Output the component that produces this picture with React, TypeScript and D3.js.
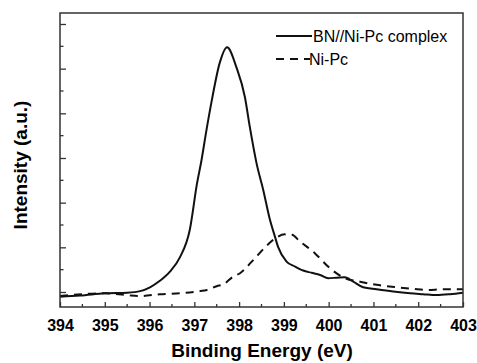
import { useEffect, useRef } from "react";
import * as d3 from "d3";

// BN//Ni-Pc complex (solid line)
const complexEnergy = [
  394.0, 394.45, 395.0, 395.5, 395.79, 396.01, 396.23, 396.45, 396.68, 396.9,
  397.06, 397.16, 397.27, 397.39, 397.57, 397.73, 397.94, 398.13, 398.24, 398.39,
  398.54, 398.69, 398.8, 398.87, 399.06, 399.25, 399.43, 399.62, 399.81, 399.99,
  400.18, 400.36, 400.55, 400.77, 401.07, 401.44, 401.82, 402.11, 402.41, 402.71, 403.0,
];
const complexIntensity = [
  -0.105, -0.08, -0.03, -0.015, 0.02, 0.105, 0.25, 0.45, 0.78, 1.4,
  2.43, 2.95, 3.62, 4.29, 5.14, 5.48, 5.03, 4.36, 3.69, 2.88,
  2.28, 1.61, 1.24, 1.01, 0.68, 0.57, 0.48, 0.43, 0.38, 0.31,
  0.32, 0.33, 0.23, 0.105, 0.06, 0.01, -0.03, -0.05, -0.07, -0.05, -0.015,
];

// Ni-Pc (dashed line)
const nipcEnergy = [
  394.0, 395.0, 395.49, 395.79, 396.23, 396.68, 397.13, 397.28, 397.5, 397.65,
  397.86, 398.02, 398.32, 398.65, 398.82, 399.02, 399.18, 399.36, 399.69, 400.03,
  400.36, 400.7, 401.07, 401.52, 401.89, 402.19, 402.56, 403.0,
];
const nipcIntensity = [
  -0.09, -0.03, -0.07, -0.09, -0.05, -0.03, 0.02, 0.045, 0.13, 0.17,
  0.34, 0.42, 0.72, 1.07, 1.21, 1.29, 1.28, 1.13, 0.87, 0.53,
  0.31, 0.23, 0.16, 0.105, 0.07, 0.045, 0.06, 0.06,
];

const xTicks = d3.range(394, 403.01, 1);
const xMinor = d3.range(394.5, 403, 1);
const yTicks = d3.range(0, 6.01, 1);
const yMinor = d3.range(0.5, 6, 1);

const legendLabels = ["BN//Ni-Pc complex", "Ni-Pc"];

const W = 477;
const H = 363;
const FRAME = { left: 60, right: 463, top: 13, bottom: 307 };
const FONT = "'Liberation Sans', Arial, sans-serif";

export default function App() {
  const svgRef = useRef<SVGSVGElement | null>(null);

  useEffect(() => {
    const svg = d3.select(svgRef.current);
    svg.selectAll("*").remove();

    const x = d3.scaleLinear().domain([394, 403]).range([FRAME.left, FRAME.right]);
    const y = d3.scaleLinear().domain([-0.336, 6.246]).range([FRAME.bottom, FRAME.top]);

    const line = d3
      .line<[number, number]>()
      .x(d => x(d[0]))
      .y(d => y(d[1]))
      .curve(d3.curveMonotoneX);

    const complex = complexEnergy.map((e, i) => [e, complexIntensity[i]] as [number, number]);
    const nipc = nipcEnergy.map((e, i) => [e, nipcIntensity[i]] as [number, number]);

    // curves
    svg.append("path")
      .datum(nipc)
      .attr("d", line)
      .attr("fill", "none")
      .attr("stroke", "#111")
      .attr("stroke-width", 2)
      .attr("stroke-dasharray", "8,6");

    svg.append("path")
      .datum(complex)
      .attr("d", line)
      .attr("fill", "none")
      .attr("stroke", "#111")
      .attr("stroke-width", 2);

    // frame
    svg.append("rect")
      .attr("x", FRAME.left)
      .attr("y", FRAME.top)
      .attr("width", FRAME.right - FRAME.left)
      .attr("height", FRAME.bottom - FRAME.top)
      .attr("fill", "none")
      .attr("stroke", "#333")
      .attr("stroke-width", 1.5);

    // bottom axis, ticks pointing inward
    const xAxis = svg.append("g").attr("transform", `translate(0,${FRAME.bottom})`);
    xAxis.call(d3.axisBottom(x).tickValues(xTicks).tickSize(-5).tickPadding(13).tickFormat(d3.format("d")))
      .call(g => g.select(".domain").remove())
      .call(g => g.selectAll("line").attr("stroke", "#333").attr("stroke-width", 1.3))
      .call(g => g.selectAll("text")
        .attr("fill", "#000")
        .attr("font-family", FONT)
        .attr("font-weight", "bold")
        .attr("font-size", 16));
    xAxis.selectAll("line.minor")
      .data(xMinor)
      .join("line")
      .attr("class", "minor")
      .attr("x1", d => x(d)).attr("x2", d => x(d))
      .attr("y1", 0).attr("y2", -3)
      .attr("stroke", "#333").attr("stroke-width", 1.3);

    // left axis, no labels
    const yAxis = svg.append("g").attr("transform", `translate(${FRAME.left},0)`);
    yAxis.call(d3.axisLeft(y).tickValues(yTicks).tickSize(-6).tickFormat(() => ""))
      .call(g => g.select(".domain").remove())
      .call(g => g.selectAll("line").attr("stroke", "#333").attr("stroke-width", 1.3));
    yAxis.selectAll("line.minor")
      .data(yMinor)
      .join("line")
      .attr("class", "minor")
      .attr("x1", 0).attr("x2", 3.5)
      .attr("y1", d => y(d)).attr("y2", d => y(d))
      .attr("stroke", "#333").attr("stroke-width", 1.3);

    // axis titles
    svg.append("text")
      .attr("x", 262)
      .attr("y", 357)
      .attr("text-anchor", "middle")
      .attr("font-family", FONT)
      .attr("font-weight", "bold")
      .attr("font-size", 19)
      .attr("fill", "#000")
      .text("Binding Energy (eV)");

    svg.append("text")
      .attr("transform", "translate(27,165) rotate(-90)")
      .attr("text-anchor", "middle")
      .attr("font-family", FONT)
      .attr("font-weight", "bold")
      .attr("font-size", 19)
      .attr("fill", "#000")
      .text("Intensity (a.u.)");

    // legend
    const legend = svg.append("g").attr("transform", "translate(276,36)");
    legendLabels.forEach((label, i) => {
      const row = legend.append("g").attr("transform", `translate(0,${i * 23})`);
      row.append("line")
        .attr("x1", 0).attr("x2", i === 0 ? 36 : 34)
        .attr("y1", 0).attr("y2", 0)
        .attr("stroke", "#111")
        .attr("stroke-width", 2)
        .attr("stroke-dasharray", i === 0 ? null : "8,6");
      row.append("text")
        .attr("x", i === 0 ? 37 : 33)
        .attr("y", 6)
        .attr("font-family", FONT)
        .attr("font-size", 16)
        .attr("fill", "#000")
        .text(label);
    });
  }, []);

  return (
    <div style={{ position: "absolute", left: 0, top: 0, width: W, height: H, background: "#fff" }}>
      <svg ref={svgRef} width={W} height={H} />
    </div>
  );
}
